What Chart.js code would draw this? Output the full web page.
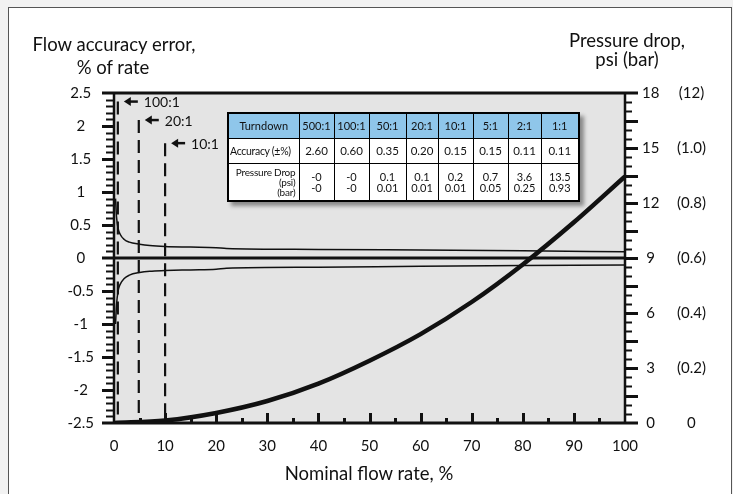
<!DOCTYPE html>
<html><head><meta charset="utf-8">
<script src="https://cdn.jsdelivr.net/npm/chart.js@4.4.1/dist/chart.umd.min.js"></script>
<style>
html,body{margin:0;padding:0;background:#f2f2f2;}
#wrap{position:relative;width:733px;height:494px;overflow:hidden;font-family:Lato,"Noto Sans",sans-serif;}
#frame{position:absolute;left:8px;top:7px;width:724px;height:520px;background:#fff;border:1px solid #555;box-sizing:border-box}
canvas{position:absolute;left:0;top:0}
.t{position:absolute;font-size:18.5px;line-height:19px;color:#111;white-space:nowrap;transform:translateX(-50%)}
#tbl{position:absolute;left:227px;top:112px;border-collapse:collapse;border:2px solid #000;box-shadow:4px 4px 4px rgba(0,0,0,0.4);background:#fff;color:#111;table-layout:fixed;font-family:Lato,sans-serif}
#tbl td{border:1px solid #000;padding:0;text-align:center;font-size:11.5px;line-height:12px;white-space:nowrap;overflow:visible}
#tbl tr.h td{background:#8fc6ea;font-size:11px;height:24px}
#tbl tr.a td{height:24px}
#tbl tr.p td{height:36px;font-size:11px;line-height:11.5px}
#tbl td.lab{text-align:left;padding-left:1px;font-size:10.5px;letter-spacing:-0.3px}
#tbl tr.h td.lab{text-align:center;padding-left:0;letter-spacing:0}
#tbl tr.p td.lab{text-align:right;padding-right:3px;padding-left:0;font-size:10px;line-height:10px;letter-spacing:-0.2px}
</style></head>
<body>
<div id="wrap">
  <div id="frame"></div>
  <canvas id="c" width="733" height="494"></canvas>
  <div class="t" style="left:114px;top:35px">Flow accuracy error,</div>
  <div class="t" style="left:113px;top:58px">% of rate</div>
  <div class="t" style="left:627px;top:31px">Pressure drop,</div>
  <div class="t" style="left:627px;top:50px">psi (bar)</div>
  <div class="t" style="left:369px;top:464px">Nominal flow rate, %</div>
  <table id="tbl"></table>
</div>
<script>
// ---- data ----
const flowPct   = [0.3, 0.5, 0.8, 1.2, 2, 3, 5, 7, 10, 15, 20, 22, 40, 60, 80, 100];
const accUpper  = [0.9, 0.62, 0.45, 0.36, 0.28, 0.24, 0.21, 0.19, 0.175, 0.165, 0.155, 0.145, 0.13, 0.12, 0.11, 0.095];
const accLower  = [-1.0, -0.7, -0.5, -0.4, -0.31, -0.26, -0.22, -0.2, -0.19, -0.18, -0.17, -0.155, -0.14, -0.125, -0.115, -0.105];
const pressFlow = [0, 10, 20, 30, 40, 50, 60, 70, 80, 90, 100];
const pressPsi  = [0, 0.14, 0.55, 1.2, 2.15, 3.4, 4.85, 6.6, 8.65, 10.95, 13.45];
const markFlow  = [0.75, 4.85, 10];
const markTop   = [2.37, 2.09, 1.74];
const markText  = ['100:1', '20:1', '10:1'];
const rightBar  = ['0', '(0.2)', '(0.4)', '(0.6)', '(0.8)', '(1.0)', '(12)'];
const turndown  = ['500:1','100:1','50:1','20:1','10:1','5:1','2:1','1:1'];
const accuracy  = ['2.60','0.60','0.35','0.20','0.15','0.15','0.11','0.11'];
const dropPsi   = ['-0','-0','0.1','0.1','0.2','0.7','3.6','13.5'];
const dropBar   = ['-0','-0','0.01','0.01','0.01','0.05','0.25','0.93'];

// ---- table ----
(function(){
  const colW = [71,35,35,37,32,35,35,33,38];
  let h = '<colgroup>' + colW.map(w=>'<col style="width:'+w+'px">').join('') + '</colgroup>';
  h += '<tr class="h"><td class="lab">Turndown</td>' + turndown.map(t=>'<td>'+t+'</td>').join('') + '</tr>';
  h += '<tr class="a"><td class="lab">Accuracy (±%)</td>' + accuracy.map(t=>'<td>'+t+'</td>').join('') + '</tr>';
  h += '<tr class="p"><td class="lab">Pressure Drop<br>(psi)<br>(bar)</td>' + dropPsi.map((t,i)=>'<td>'+t+'<br>'+dropBar[i]+'</td>').join('') + '</tr>';
  document.getElementById('tbl').innerHTML = h;
})();

const FONT = 'Lato';
const INK = '#111';

const deco = {
  id: 'deco',
  beforeDraw(c) {
    const {ctx, chartArea: a} = c;
    ctx.save();
    ctx.fillStyle = '#e4e4e4';
    ctx.fillRect(a.left, a.top, a.right - a.left, a.bottom - a.top);
    ctx.restore();
  },
  beforeDatasetsDraw(c) {
    const {ctx, chartArea: a, scales} = c;
    const y0 = scales.y.getPixelForValue(0);
    ctx.save();
    ctx.strokeStyle = INK;
    ctx.lineWidth = 3;
    ctx.beginPath(); ctx.moveTo(a.left - 12, y0); ctx.lineTo(a.right, y0); ctx.stroke();
    ctx.restore();
  },
  afterDatasetsDraw(c) {
    const {ctx, chartArea: a, scales} = c;
    const sx = scales.x, sy = scales.y, sy2 = scales.y2;
    ctx.save();
    ctx.strokeStyle = INK; ctx.fillStyle = INK; ctx.lineCap = 'butt';
    // frame lines
    ctx.lineWidth = 3;
    ctx.beginPath(); ctx.moveTo(a.left - 12, a.top); ctx.lineTo(a.right + 13, a.top); ctx.stroke();
    ctx.beginPath(); ctx.moveTo(a.left - 12, a.bottom); ctx.lineTo(a.right + 13, a.bottom); ctx.stroke();
    ctx.lineWidth = 2.5;
    ctx.beginPath(); ctx.moveTo(a.left, a.top); ctx.lineTo(a.left, a.bottom); ctx.stroke();
    ctx.beginPath(); ctx.moveTo(a.right, a.top); ctx.lineTo(a.right, a.bottom); ctx.stroke();
    // left ticks
    for (let i = -24; i <= 24; i++) {
      const p = Math.round(sy.getPixelForValue(i / 10)) + 0.5;
      const major = i % 5 === 0;
      if (i === 0) continue;
      ctx.lineWidth = major ? 3 : 2;
      ctx.beginPath(); ctx.moveTo(a.left - (major ? 12 : 8), p); ctx.lineTo(a.left, p); ctx.stroke();
    }
    // right ticks
    for (let i = 1; i < 36; i++) {
      const p = Math.round(sy2.getPixelForValue(i * 0.5)) + 0.5;
      const major = i % 3 === 0;
      ctx.lineWidth = major ? 3 : 2;
      ctx.beginPath(); ctx.moveTo(a.right, p); ctx.lineTo(a.right + (major ? 13 : 7), p); ctx.stroke();
    }
    // bottom ticks (inside)
    for (let i = 1; i < 20; i++) {
      const p = Math.round(sx.getPixelForValue(i * 5)) + 0.5;
      const major = i % 2 === 0;
      ctx.lineWidth = 3;
      ctx.beginPath(); ctx.moveTo(p, a.bottom); ctx.lineTo(p, a.bottom - (major ? 10 : 5)); ctx.stroke();
    }
    // turndown arrows
    ctx.font = '14px ' + FONT;
    ctx.textBaseline = 'middle'; ctx.textAlign = 'left';
    for (let i = 0; i < markFlow.length; i++) {
      const px = sx.getPixelForValue(markFlow[i]);
      const py = sy.getPixelForValue(markTop[i]);
      const tip = px + 6;
      ctx.lineWidth = 2.5;
      ctx.beginPath(); ctx.moveTo(tip + 4, py); ctx.lineTo(tip + 14, py); ctx.stroke();
      ctx.beginPath(); ctx.moveTo(tip, py); ctx.lineTo(tip + 7, py - 4.5); ctx.lineTo(tip + 7, py + 4.5); ctx.closePath(); ctx.fill();
      ctx.fillText(markText[i], px + 26, py + 1);
    }
    ctx.restore();
  }
};

const ds = [];
ds.push({data: flowPct.map((x,i)=>({x, y: accUpper[i]})), yAxisID: 'y', borderColor: INK, borderWidth: 1.5, pointRadius: 0, cubicInterpolationMode: 'monotone'});
ds.push({data: flowPct.map((x,i)=>({x, y: accLower[i]})), yAxisID: 'y', borderColor: INK, borderWidth: 1.5, pointRadius: 0, cubicInterpolationMode: 'monotone'});
ds.push({data: pressFlow.map((x,i)=>({x, y: pressPsi[i]})), yAxisID: 'y2', borderColor: INK, borderWidth: 4.5, pointRadius: 0, cubicInterpolationMode: 'monotone'});
markFlow.forEach((f,i)=>{
  ds.push({data: [{x: f, y: markTop[i]}, {x: f, y: -2.5}], yAxisID: 'y', borderColor: INK, borderWidth: 2.2, borderDash: [13, 7], pointRadius: 0, tension: 0});
});

const tickFont = {family: FONT, size: 15};
const noGrid = {display: false, drawTicks: false};
new Chart(document.getElementById('c'), {
  type: 'line',
  data: {datasets: ds},
  plugins: [deco],
  options: {
    responsive: false, animation: false,
    layout: {padding: {left: 0, right: 0, top: 93, bottom: 0}},
    plugins: {legend: {display: false}, tooltip: {enabled: false}},
    scales: {
      x: {type: 'linear', position: 'bottom', min: 0, max: 100, grid: noGrid, border: {display: false},
          ticks: {stepSize: 10, color: INK, font: tickFont, padding: 14, maxRotation: 0, autoSkip: false},
          afterFit(s) { s.height = 71; }},
      y: {type: 'linear', position: 'left', min: -2.5, max: 2.5, grid: noGrid, border: {display: false},
          ticks: {stepSize: 0.5, color: INK, font: tickFont, padding: 20, crossAlign: 'center', autoSkip: false,
                  callback: v => String(Math.round(v * 10) / 10)},
          afterFit(s) { s.width = 114; }},
      y2: {type: 'linear', position: 'right', weight: 0, min: 0, max: 18, grid: noGrid, border: {display: false},
           ticks: {stepSize: 3, color: INK, font: tickFont, padding: 17, crossAlign: 'center', autoSkip: false,
                   callback: v => String(v)},
           afterFit(s) { s.width = 40; }},
      y3: {type: 'linear', position: 'right', weight: 1, min: 0, max: 18, grid: noGrid, border: {display: false},
           ticks: {stepSize: 3, color: INK, font: tickFont, padding: 12, crossAlign: 'center', autoSkip: false,
                   callback: v => rightBar[Math.round(v / 3)]},
           afterFit(s) { s.width = 68; }}
    }
  }
});
</script>
</body></html>
